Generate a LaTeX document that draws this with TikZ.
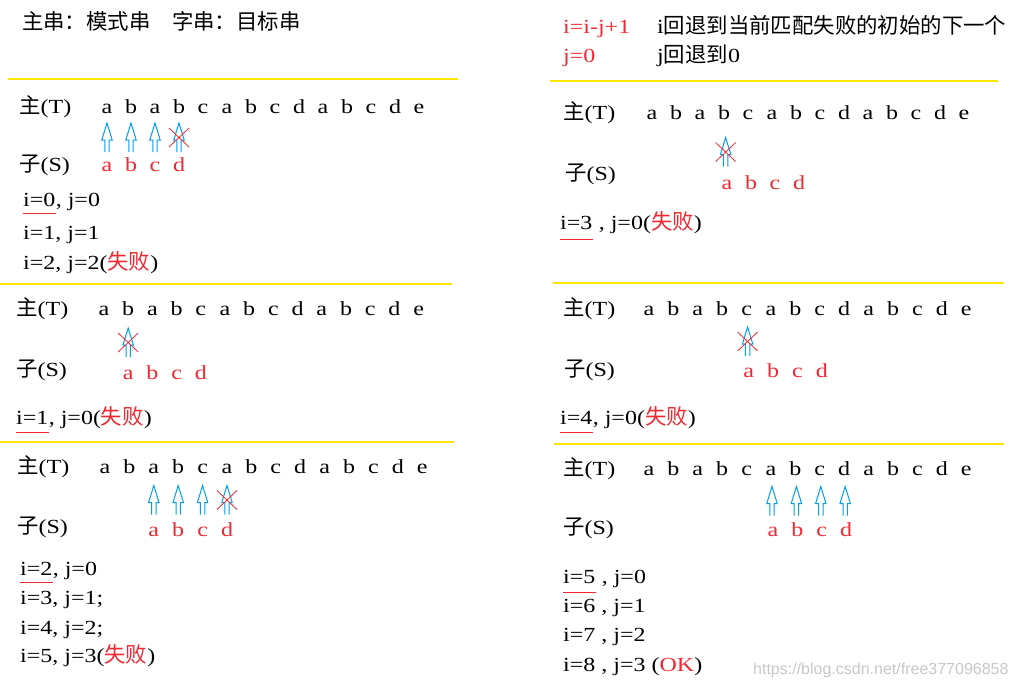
\documentclass[tikz,border=0pt]{standalone}
\usepackage{fontspec}
\setmainfont{Liberation Serif}[FakeStretch=1.2]
\newfontfamily\cjk{Noto Sans CJK SC}[Scale=1.07]
\newfontfamily\wmfont{Liberation Sans}
\usetikzlibrary{calc}
\definecolor{failred}{RGB}{240,40,50}
\definecolor{ptrblue}{RGB}{0,160,233}
\definecolor{sepyellow}{RGB}{255,230,0}
\begin{document}
\begin{tikzpicture}[x=1pt,y=-1pt,
  every node/.style={inner sep=0pt,text height=14pt,text depth=4pt,font=\fontsize{20}{20}\selectfont},
  lbl/.style={anchor=west},pat/.style={text=failred},
  sepline/.style={draw=sepyellow,line width=1.3pt},
  uline/.style={draw=failred,line width=1.3pt},
  up/.pic={\draw[ptrblue,line width=1pt] (-2.2,15) -- (-2.2,3) -- (-5.2,3) -- (0,-14) -- (5.2,3) -- (2.2,3) -- (2.2,15);},
  nomatch/.pic={\draw[failred,line width=.8pt] (-10,-9) -- (10,10) (10,-9) -- (-10,10);}]
  \useasboundingbox (0,0) rectangle (1013,688);
  \node[lbl,font=\cjk\fontsize{20}{20}\selectfont] (title) at (22,25) {主串：模式串　字串：目标串};
  \node[lbl,pat] (ruleI) at (563,29) {i=i-j+1};
  \node[lbl] (noteI) at (657,29) {i{\cjk 回退到当前匹配失败的初始的下一个}};
  \node[lbl,pat] (ruleJ) at (563,57) {j=0};
  \node[lbl] (noteJ) at (657,57) {j{\cjk 回退到}0};
  \draw[sepline] (8,79) -- (458,79) (550,81) -- (998,81);
  \draw[sepline] (0,284) -- (452,284) (553,283) -- (1004,283);
  \draw[sepline] (0,442) -- (454,442) (554,444) -- (1004,444);

  \node[lbl] (mainA) at (19,108) {{\cjk 主}(T)};
  \node[lbl] (subA) at (19,166) {{\cjk 子}(S)};
  \foreach \c [count=\i] in {a,b,a,b,c,a,b,c,d,a,b,c,d,e}
    \node (tA\i) at ({107+24*(\i-1)},108) {\c};
  \foreach \c [count=\i] in {a,b,c,d}
    \node[pat] (sA\i) at ({107+24*(\i-1)},166) {\c};
  \foreach \i in {1,...,4}
    \pic at ($(tA\i.south)!.5!(sA\i.north)$) {up};
  \pic at ($(tA4.south)!.5!(sA4.north)$) {nomatch};
  \node[lbl] (iA1) at (23,201) {i=0};
  \node[lbl] (jA1) at (iA1.east) {, j=0};
  \node[lbl] (lineA2) at (23,234) {i=1, j=1};
  \node[lbl] (lineA3) at (23,264) {i=2, j=2(\textcolor{failred}{\cjk 失败})};
  \draw[uline] ($(iA1.south west)+(0,3)$) -- ($(iA1.south east)+(0,3)$);

  \node[lbl] (mainB) at (16,310) {{\cjk 主}(T)};
  \node[lbl] (subB) at (16,371) {{\cjk 子}(S)};
  \foreach \c [count=\i] in {a,b,a,b,c,a,b,c,d,a,b,c,d,e}
    \node (tB\i) at ({104+24.2*(\i-1)},310) {\c};
  \foreach \c [count=\i] in {a,b,c,d}
    \node[pat] (sB\i) at ({104+24.2*\i},374) {\c};
  \pic at ($(tB2.south)!.5!(sB1.north)$) {up};
  \pic at ($(tB2.south)!.5!(sB1.north)$) {nomatch};
  \node[lbl] (iB1) at (16,419) {i=1};
  \node[lbl] (jB1) at (iB1.east) {, j=0(\textcolor{failred}{\cjk 失败})};
  \draw[uline] ($(iB1.south west)+(0,4)$) -- ($(iB1.south east)+(0,4)$);

  \node[lbl] (mainC) at (17,468) {{\cjk 主}(T)};
  \node[lbl] (subC) at (17,528) {{\cjk 子}(S)};
  \foreach \c [count=\i] in {a,b,a,b,c,a,b,c,d,a,b,c,d,e}
    \node (tC\i) at ({105+24.4*(\i-1)},468) {\c};
  \foreach \c [count=\i] in {a,b,c,d}
    \node[pat] (sC\i) at ({105+24.4*(\i+1)},531) {\c};
  \foreach \i [evaluate=\i as \j using int(\i+2)] in {1,...,4}
    \pic at ($(tC\j.south)!.5!(sC\i.north)$) {up};
  \pic at ($(tC6.south)!.5!(sC4.north)$) {nomatch};
  \node[lbl] (iC1) at (20,570) {i=2};
  \node[lbl] (jC1) at (iC1.east) {, j=0};
  \node[lbl] (lineC2) at (20,599) {i=3, j=1;};
  \node[lbl] (lineC3) at (20,629) {i=4, j=2;};
  \node[lbl] (lineC4) at (20,657) {i=5, j=3(\textcolor{failred}{\cjk 失败})};
  \draw[uline] ($(iC1.south west)+(0,3)$) -- ($(iC1.south east)+(0,3)$);

  \node[lbl] (mainD) at (563,114) {{\cjk 主}(T)};
  \node[lbl] (subD) at (565,175) {{\cjk 子}(S)};
  \foreach \c [count=\i] in {a,b,a,b,c,a,b,c,d,a,b,c,d,e}
    \node (tD\i) at ({652+24*(\i-1)},114) {\c};
  \foreach \c [count=\i] in {a,b,c,d}
    \node[pat] (sD\i) at ({655+24*(\i+2)},184) {\c};
  \pic at ($(tD4.south)!.55!(sD1.north)$) {up};
  \pic at ($(tD4.south)!.55!(sD1.north)$) {nomatch};
  \node[lbl] (iD1) at (560,224) {i=3};
  \node[lbl] (jD1) at (iD1.east) {\ , j=0(\textcolor{failred}{\cjk 失败})};
  \draw[uline] ($(iD1.south west)+(0,6)$) -- ($(iD1.south east)+(0,6)$);

  \node[lbl] (mainE) at (563,310) {{\cjk 主}(T)};
  \node[lbl] (subE) at (564,371) {{\cjk 子}(S)};
  \foreach \c [count=\i] in {a,b,a,b,c,a,b,c,d,a,b,c,d,e}
    \node (tE\i) at ({649+24.4*(\i-1)},310) {\c};
  \foreach \c [count=\i] in {a,b,c,d}
    \node[pat] (sE\i) at ({651+24.4*(\i+3)},372) {\c};
  \pic at ($(tE5.south)!.5!(sE1.north)$) {up};
  \pic at ($(tE5.south)!.5!(sE1.north)$) {nomatch};
  \node[lbl] (iE1) at (560,419) {i=4};
  \node[lbl] (jE1) at (iE1.east) {, j=0(\textcolor{failred}{\cjk 失败})};
  \draw[uline] ($(iE1.south west)+(0,4)$) -- ($(iE1.south east)+(0,4)$);

  \node[lbl] (mainF) at (563,470) {{\cjk 主}(T)};
  \node[lbl] (subF) at (563,529) {{\cjk 子}(S)};
  \foreach \c [count=\i] in {a,b,a,b,c,a,b,c,d,a,b,c,d,e}
    \node (tF\i) at ({649+24.4*(\i-1)},470) {\c};
  \foreach \c [count=\i] in {a,b,c,d}
    \node[pat] (sF\i) at ({651+24.4*(\i+4)},531) {\c};
  \foreach \i [evaluate=\i as \j using int(\i+5)] in {1,...,4}
    \pic at ($(tF\j.south)!.5!(sF\i.north)$) {up};
  \node[lbl] (iF1) at (563,578) {i=5};
  \node[lbl] (jF1) at (iF1.east) {\ , j=0};
  \node[lbl] (lineF2) at (563,607) {i=6 , j=1};
  \node[lbl] (lineF3) at (563,636) {i=7 , j=2};
  \node[lbl] (lineF4) at (563,666) {i=8 , j=3 (\textcolor{failred}{OK})};
  \draw[uline] ($(iF1.south west)+(0,5)$) -- ($(iF1.south east)+(0,5)$);
  \node[lbl,text=black!22,font=\wmfont\fontsize{16}{16}\selectfont] (mark) at (753,669) {https://blog.csdn.net/free377096858};
\end{tikzpicture}
\end{document}
